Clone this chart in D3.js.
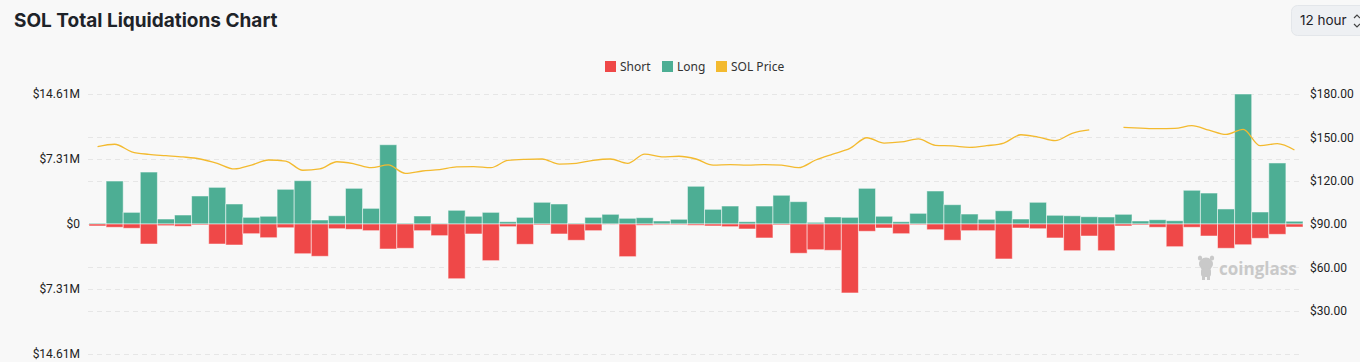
<!DOCTYPE html>
<html>
<head>
<meta charset="utf-8">
<script src="https://cdn.jsdelivr.net/npm/d3@7"></script>
<style>
  body { margin: 0; background: #f8f8f8; }
  svg { display: block; }
</style>
</head>
<body>
<div id="chart"></div>
<script>
// Data: 12 hour buckets, values in $M, price in $
const longs = [
  0.11, 4.83, 1.31, 5.84, 0.56, 1.01, 3.15, 4.12, 2.25, 0.75,
  0.87, 3.90, 4.87, 0.45, 0.93, 4.01, 1.76, 8.91, 0.11, 0.90,
  0.08, 1.54, 0.87, 1.31, 0.26, 0.75, 2.44, 2.25, 0.11, 0.75,
  1.09, 0.64, 0.71, 0.34, 0.53, 4.24, 1.65, 2.02, 0.26, 2.02,
  3.23, 2.51, 0.19, 0.79, 0.75, 4.01, 0.87, 0.26, 1.20, 3.71,
  2.17, 1.12, 0.53, 1.49, 0.56, 2.44, 0.98, 0.93, 0.82, 0.79,
  1.09, 0.34, 0.48, 0.37, 3.79, 3.48, 1.69, 14.61, 1.35, 6.86,
  0.31
];
const shorts = [
  0.22, 0.37, 0.48, 2.25, 0.19, 0.26, 0.11, 2.25, 2.36, 1.09,
  1.54, 0.42, 3.34, 3.63, 0.53, 0.60, 0.75, 2.81, 2.73, 0.75,
  1.31, 6.15, 1.12, 4.12, 0.30, 2.28, 0.11, 1.12, 1.83, 0.75,
  0.03, 3.67, 0.15, 0.08, 0.08, 0.15, 0.22, 0.30, 0.56, 1.57,
  0.11, 3.29, 2.89, 2.96, 7.75, 0.82, 0.45, 1.09, 0.08, 0.64,
  1.83, 0.75, 0.75, 3.93, 0.45, 0.53, 1.57, 3.00, 1.35, 3.00,
  0.22, 0.11, 0.37, 2.55, 0.37, 1.35, 2.73, 2.33, 1.61, 1.16,
  0.34
];
const prices = [
  143.5, 145.2, 140.0, 138.2, 137.3, 136.4, 135.0, 132.0, 128.1, 130.8,
  134.3, 133.6, 127.2, 128.1, 133.1, 131.7, 129.0, 130.9, 125.1, 126.7,
  127.6, 129.5, 129.7, 129.0, 134.1, 134.8, 135.0, 131.5, 132.0, 134.1,
  135.0, 132.0, 138.4, 136.5, 136.9, 135.0, 130.8, 131.1, 130.8, 131.1,
  130.8, 129.0, 134.3, 138.4, 142.3, 149.7, 146.0, 146.8, 148.9, 144.5,
  144.1, 143.1, 144.2, 146.0, 151.8, 150.2, 147.7, 152.8, 155.1, null,
  156.9, 156.4, 156.0, 156.2, 158.1, 155.0, 152.0, 155.5, 144.2, 145.6,
  141.2
];
const leftTicks = [-14.61, -7.31, 0, 7.31, 14.61];
const rightTicks = [30, 60, 90, 120, 150, 180];
const legendItems = [
  {label: "Short", color: "#ef4848"},
  {label: "Long", color: "#4dae94"},
  {label: "SOL Price", color: "#f3ba2f"}
];

const width = 1360, height = 362;
const plot = {left: 89, right: 1303, top: 94, bottom: 354};

const svg = d3.select("#chart").append("svg")
  .attr("width", width)
  .attr("height", height);

// Title
svg.append("text")
  .attr("x", 14)
  .attr("y", 27)
  .attr("font-family", "Inter, sans-serif")
  .attr("font-weight", 700)
  .attr("font-size", "19px")
  .attr("fill", "#1e2329")
  .text("SOL Total Liquidations Chart");

// "12 hour" selector box (clipped by the window)
svg.append("rect")
  .attr("x", 1291.5)
  .attr("y", 5.5)
  .attr("width", 90)
  .attr("height", 30)
  .attr("rx", 6)
  .attr("fill", "#eef0f3")
  .attr("stroke", "#e3e6ea");

svg.append("text")
  .attr("x", 1300)
  .attr("y", 25)
  .attr("font-family", "Inter, sans-serif")
  .attr("font-size", "13.5px")
  .attr("fill", "#1e2329")
  .text("12 hour");

svg.append("path")
  .attr("d", "M1354,18 l3,-3 l3,3 M1354,24 l3,3 l3,-3")
  .attr("fill", "none")
  .attr("stroke", "#444")
  .attr("stroke-width", 1.2);

// Scales
const x = d3.scaleBand()
  .domain(d3.range(longs.length))
  .range([plot.left, plot.right])
  .padding(0);

const yLeft = d3.scaleLinear()
  .domain([-14.61, 14.61])
  .range([plot.bottom, plot.top]);

const yRight = d3.scaleLinear()
  .domain([0, 180])
  .range([plot.bottom, plot.top]);

// Grid lines for both axes
const gridYs = leftTicks.map(d => yLeft(d)).concat(rightTicks.map(d => yRight(d)));
svg.append("g")
  .selectAll("line")
  .data(gridYs)
  .join("line")
  .attr("x1", plot.left - 1)
  .attr("x2", plot.right)
  .attr("y1", d => Math.round(d) + 0.5)
  .attr("y2", d => Math.round(d) + 0.5)
  .attr("stroke", "#e6e6e6")
  .attr("stroke-dasharray", "5,4");

// Left axis labels
const fmtLeft = d => d === 0 ? "$0" : "$" + Math.abs(d).toFixed(2) + "M";
svg.append("g")
  .attr("transform", `translate(80,0)`)
  .call(d3.axisLeft(yLeft).tickValues(leftTicks).tickFormat(fmtLeft).tickSize(0).tickPadding(0))
  .call(g => g.select(".domain").remove())
  .call(g => g.selectAll("text")
    .attr("font-family", "Roboto, sans-serif")
    .attr("font-size", "12px")
    .attr("fill", "#222"));

// Right axis labels
svg.append("g")
  .attr("transform", `translate(1310,0)`)
  .call(d3.axisRight(yRight).tickValues(rightTicks).tickFormat(d => "$" + d.toFixed(2)).tickSize(0).tickPadding(0))
  .call(g => g.select(".domain").remove())
  .call(g => g.selectAll("text")
    .attr("font-family", "Roboto, sans-serif")
    .attr("font-size", "12px")
    .attr("fill", "#222"));

// Watermark
const wm = svg.append("g").attr("fill", "#c9c9c9");
wm.append("ellipse").attr("cx", 1206).attr("cy", 264).attr("rx", 7).attr("ry", 6.5);
wm.append("ellipse").attr("cx", 1200).attr("cy", 258).attr("rx", 2.2).attr("ry", 2.5);
wm.append("ellipse").attr("cx", 1212).attr("cy", 258).attr("rx", 2.2).attr("ry", 2.5);
wm.append("rect").attr("x", 1201).attr("y", 268).attr("width", 10).attr("height", 9).attr("rx", 3);
wm.append("rect").attr("x", 1202).attr("y", 275).attr("width", 3).attr("height", 5);
wm.append("rect").attr("x", 1207).attr("y", 275).attr("width", 3).attr("height", 5);
wm.append("text")
  .attr("x", 1219)
  .attr("y", 275)
  .attr("font-family", "'Open Sans', sans-serif")
  .attr("font-weight", 700)
  .attr("font-size", "17px")
  .text("coinglass");

// Bars: longs up, shorts down
const bars = svg.append("g").attr("stroke", "rgba(255,255,255,0.5)").attr("stroke-width", 1);

bars.selectAll(".long")
  .data(longs)
  .join("rect")
  .attr("class", "long")
  .attr("x", (d, i) => x(i))
  .attr("y", d => yLeft(d))
  .attr("width", x.bandwidth())
  .attr("height", d => yLeft(0) - yLeft(d))
  .attr("fill", "#4dae94");

bars.selectAll(".short")
  .data(shorts)
  .join("rect")
  .attr("class", "short")
  .attr("x", (d, i) => x(i))
  .attr("y", yLeft(0))
  .attr("width", x.bandwidth())
  .attr("height", d => yLeft(-d) - yLeft(0))
  .attr("fill", "#ef4848");

// Price line
const line = d3.line()
  .defined(d => d != null)
  .x((d, i) => x(i) + x.bandwidth() / 2)
  .y(d => yRight(d))
  .curve(d3.curveMonotoneX);

svg.append("path")
  .datum(prices)
  .attr("d", line)
  .attr("fill", "none")
  .attr("stroke", "#f3ba2f")
  .attr("stroke-width", 1.3);

// Legend
const legend = svg.append("g").attr("transform", "translate(605,61)");
const legendX = [0, 57, 111];
legendItems.forEach((item, i) => {
  const g = legend.append("g").attr("transform", `translate(${legendX[i]},0)`);
  g.append("rect")
    .attr("width", 11)
    .attr("height", 11)
    .attr("fill", item.color);
  g.append("text")
    .attr("x", 15)
    .attr("y", 10)
    .attr("font-family", "'Noto Sans', sans-serif")
    .attr("font-size", "12px")
    .attr("fill", "#333")
    .text(item.label);
});
</script>
</body>
</html>
